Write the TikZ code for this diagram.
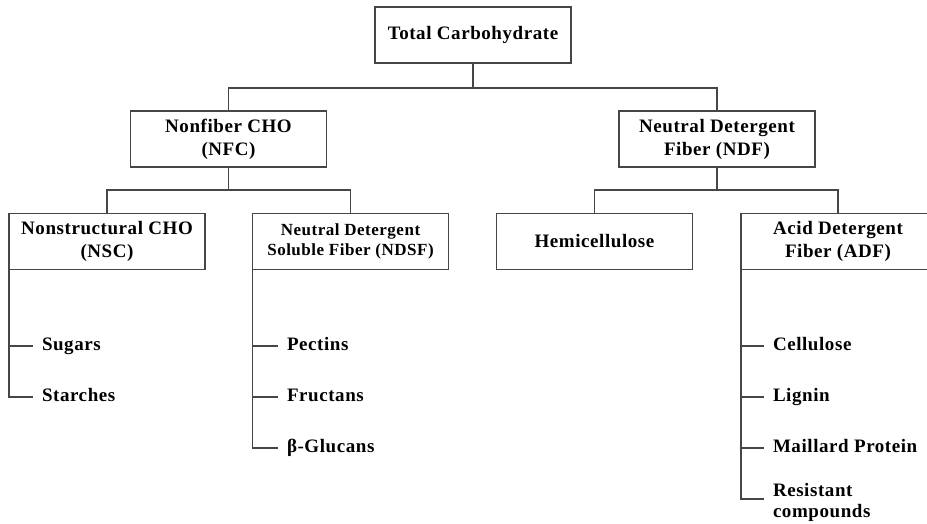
\documentclass[tikz,border=0pt]{standalone}
\usepackage{fontspec}
\setmainfont{Liberation Serif}[LetterSpace=3]
\begin{document}
\begin{tikzpicture}[x=1pt,y=-1pt,
  ln/.style={line width=1.7pt,draw={rgb,255:red,70;green,70;blue,70}},
  box/.style={ln,rectangle,fill=white,minimum width=196pt,minimum height=56pt,
    inner sep=0pt,outer sep=0pt,align=center,font=\fontsize{19}{23}\selectfont\bfseries},
  smallbox/.style={box,font=\fontsize{17}{19.5}\selectfont\bfseries},
  itembase/.style={anchor=west,inner xsep=10pt,inner ysep=0pt,outer sep=0pt,align=left,
    font=\fontsize{19}{21}\selectfont\bfseries},
  item/.style={itembase,text height=11pt,text depth=2pt},
  conn/.style={ln,line cap=rect}
]
\clip (0,0) rectangle (927,523);
\fill[white] (0,0) rectangle (927,523);

\node[box] (top) at (473,35) {Total Carbohydrate};
\node[box] (nfc) at (228.5,139) {Nonfiber CHO\\(NFC)};
\node[box] (ndf) at (717,139) {Neutral Detergent\\Fiber (NDF)};
\node[box] (nsc) at (107,241.5) {Nonstructural CHO\\(NSC)};
\node[smallbox] (ndsf) at (350.5,241.5) {Neutral Detergent\\Soluble Fiber (NDSF)};
\node[box] (hemi) at (594.5,241.5) {Hemicellulose};
\node[box,minimum width=194pt] (adf) at (838,241.5) {Acid Detergent\\Fiber (ADF)};

\coordinate (j0) at (473,88);
\coordinate (j1) at (228.5,190);
\coordinate (j2) at (717,190);

\draw[conn] (top.south) -- (j0);
\draw[conn] (j0) -| (nfc.north);
\draw[conn] (j0) -| (ndf.north);
\draw[conn] (nfc.south) -- (j1);
\draw[conn] (j1) -| (nsc.north);
\draw[conn] (j1) -| (ndsf.north);
\draw[conn] (ndf.south) -- (j2);
\draw[conn] (j2) -| (hemi.north);
\draw[conn] (j2) -| (adf.north);

% NSC list
\node[item] (sugars) at (32,346) {Sugars};
\node[item] (starches) at (32,397) {Starches};
\draw[conn] (nsc.south west) |- (starches.west);
\draw[conn] (nsc.south west |- sugars.west) -- (sugars.west);

% NDSF list
\node[item] (pectins) at (277,346) {Pectins};
\node[item] (fructans) at (277,397) {Fructans};
\node[item] (glucans) at (277,448) {β-Glucans};
\draw[conn] (ndsf.south west) |- (glucans.west);
\draw[conn] (ndsf.south west |- pectins.west) -- (pectins.west);
\draw[conn] (ndsf.south west |- fructans.west) -- (fructans.west);

% ADF list
\node[item] (cell) at (763,346) {Cellulose};
\node[item] (lignin) at (763,397) {Lignin};
\node[item] (maillard) at (763,448) {Maillard Protein};
\node[itembase] (resist) at (763,502) {Resistant\\compounds};
\coordinate (rtick) at (763,499);
\draw[conn] (adf.south west) |- (rtick);
\draw[conn] (adf.south west |- cell.west) -- (cell.west);
\draw[conn] (adf.south west |- lignin.west) -- (lignin.west);
\draw[conn] (adf.south west |- maillard.west) -- (maillard.west);
\end{tikzpicture}
\end{document}
